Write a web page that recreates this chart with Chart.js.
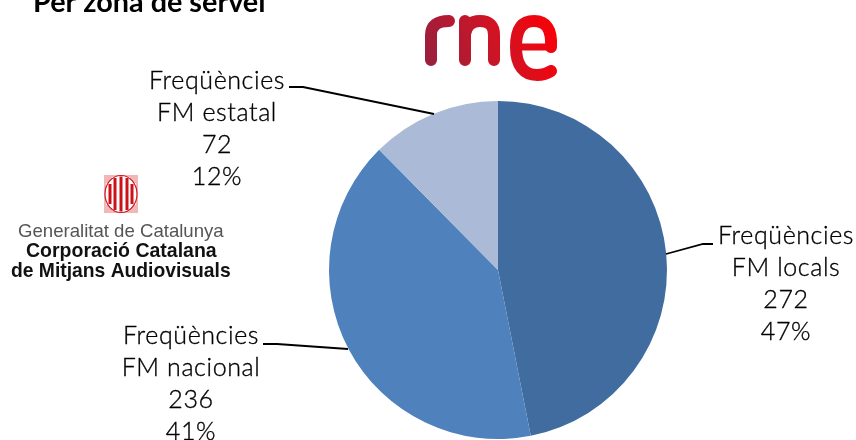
<!DOCTYPE html>
<html><head><meta charset="utf-8">
<style>html,body{margin:0;padding:0;background:#fff}canvas{display:block}</style>
<script src="https://cdn.jsdelivr.net/npm/chart.js@4"></script></head>
<body><canvas id="c" width="856" height="440"></canvas>
<script>
const categories = ['Freqüències FM locals', 'Freqüències FM nacional', 'Freqüències FM estatal'];
const values = [272, 236, 72];
const percents = ['47%', '41%', '12%'];
const colors = ['#416C9F', '#4F81BD', '#AABAD7'];
const chartTitle = 'Per zona de servei';
const labelFont = '300 25px Lato';
const labelLayout = [
  {x: 786, y: 236, line: [[713, 244], [703, 244], [666, 254]]},
  {x: 191, y: 336, line: [[263, 344], [277, 344], [348, 349]]},
  {x: 217, y: 81, line: [[289, 87], [303, 87], [434, 114]]}
];
const labelLines = [['Freqüències', 'FM locals'], ['Freqüències', 'FM nacional'], ['Freqüències', 'FM estatal']];

const overlay = {
  id: 'overlay',
  afterDraw(chart) {
    const ctx = chart.ctx;
    ctx.save();
    ctx.fillStyle = '#000';
    ctx.font = 'bold 28.8px Lato';
    ctx.textAlign = 'left';
    ctx.textBaseline = 'alphabetic';
    ctx.fillText(chartTitle, 33, 12);
    values.forEach((v, i) => {
      const L = labelLayout[i];
      ctx.strokeStyle = '#000';
      ctx.lineWidth = 1.8;
      ctx.beginPath();
      L.line.forEach((p, k) => k ? ctx.lineTo(p[0], p[1]) : ctx.moveTo(p[0], p[1]));
      ctx.stroke();
      ctx.font = labelFont;
      ctx.letterSpacing = '0.6px';
      ctx.textAlign = 'center';
      ctx.textBaseline = 'middle';
      ctx.fillStyle = '#000';
      ctx.lineWidth = 0.35;
      [...labelLines[i], String(v), percents[i]].forEach((s, k) => {
        ctx.fillText(s, L.x, L.y + k * 32);
        ctx.strokeText(s, L.x, L.y + k * 32);
      });
      ctx.letterSpacing = '0px';
    });
    // rne logo
    const g = ctx.createLinearGradient(425, 70, 555, 20);
    g.addColorStop(0, '#96203f');
    g.addColorStop(0.55, '#cf1425');
    g.addColorStop(1, '#fb0006');
    ctx.strokeStyle = g;
    ctx.lineWidth = 12;
    ctx.lineCap = 'round';
    ctx.lineJoin = 'round';
    ctx.beginPath();
    ctx.moveTo(431, 60); ctx.lineTo(431, 35);
    ctx.quadraticCurveTo(431, 21, 449, 21);
    ctx.moveTo(465, 60); ctx.lineTo(465, 21);
    ctx.moveTo(465, 34);
    ctx.quadraticCurveTo(467, 21, 480, 21);
    ctx.quadraticCurveTo(494, 21, 494, 35);
    ctx.lineTo(494, 60);
    ctx.stroke();
    ctx.lineWidth = 12;
    ctx.beginPath();
    ctx.moveTo(551, 47);
    ctx.bezierCurveTo(552, 29, 546, 21, 534, 21);
    ctx.bezierCurveTo(521, 21, 516, 31, 516, 47);
    ctx.bezierCurveTo(516, 66, 524, 75, 537, 75);
    ctx.quadraticCurveTo(545, 75, 551, 71);
    ctx.stroke();
    ctx.lineWidth = 7;
    ctx.lineCap = 'butt';
    ctx.beginPath();
    ctx.moveTo(516, 47); ctx.lineTo(554, 47);
    ctx.stroke();
    // Generalitat emblem
    ctx.fillStyle = '#f2b8b8';
    ctx.fillRect(104, 175, 34, 38);
    ctx.fillStyle = '#fff';
    ctx.fillRect(106, 177, 30, 34);
    ctx.fillStyle = '#f2b8b8';
    ctx.fillRect(105, 176, 7, 7); ctx.fillRect(130, 176, 7, 7);
    ctx.fillRect(105, 205, 7, 7); ctx.fillRect(130, 205, 7, 7);
    ctx.fillStyle = '#fff';
    ctx.beginPath(); ctx.ellipse(121, 194, 16, 18.5, 0, 0, Math.PI * 2); ctx.fill();
    ctx.strokeStyle = '#d01820';
    ctx.lineWidth = 1.2;
    ctx.stroke();
    ctx.fillStyle = '#cc1118';
    [[108.5, 184, 20], [113.5, 178, 32], [119.5, 176.5, 35], [125.5, 178, 32], [130.5, 184, 20]].forEach(b => ctx.fillRect(b[0], b[1], 3, b[2]));
    // Generalitat text
    ctx.textAlign = 'left';
    ctx.textBaseline = 'alphabetic';
    ctx.fillStyle = '#555';
    ctx.font = '18.6px "Liberation Sans"';
    ctx.fillText('Generalitat de Catalunya', 18, 237);
    ctx.fillStyle = '#111';
    ctx.font = 'bold 19.5px "Liberation Sans"';
    ctx.fillText('Corporació Catalana', 26, 257);
    ctx.font = 'bold 19.3px "Liberation Sans"';
    ctx.fillText('de Mitjans Audiovisuals', 11, 277);
    ctx.restore();
  }
};

new Chart(document.getElementById('c'), {
  type: 'pie',
  data: {
    labels: categories,
    datasets: [{ data: values, backgroundColor: colors, borderWidth: 0 }]
  },
  options: {
    responsive: false,
    animation: false,
    layout: { padding: { left: 329, right: 189, top: 101, bottom: 1 } },
    plugins: { legend: { display: false }, title: { display: false }, tooltip: { enabled: false } }
  },
  plugins: [overlay]
});
</script></body></html>
